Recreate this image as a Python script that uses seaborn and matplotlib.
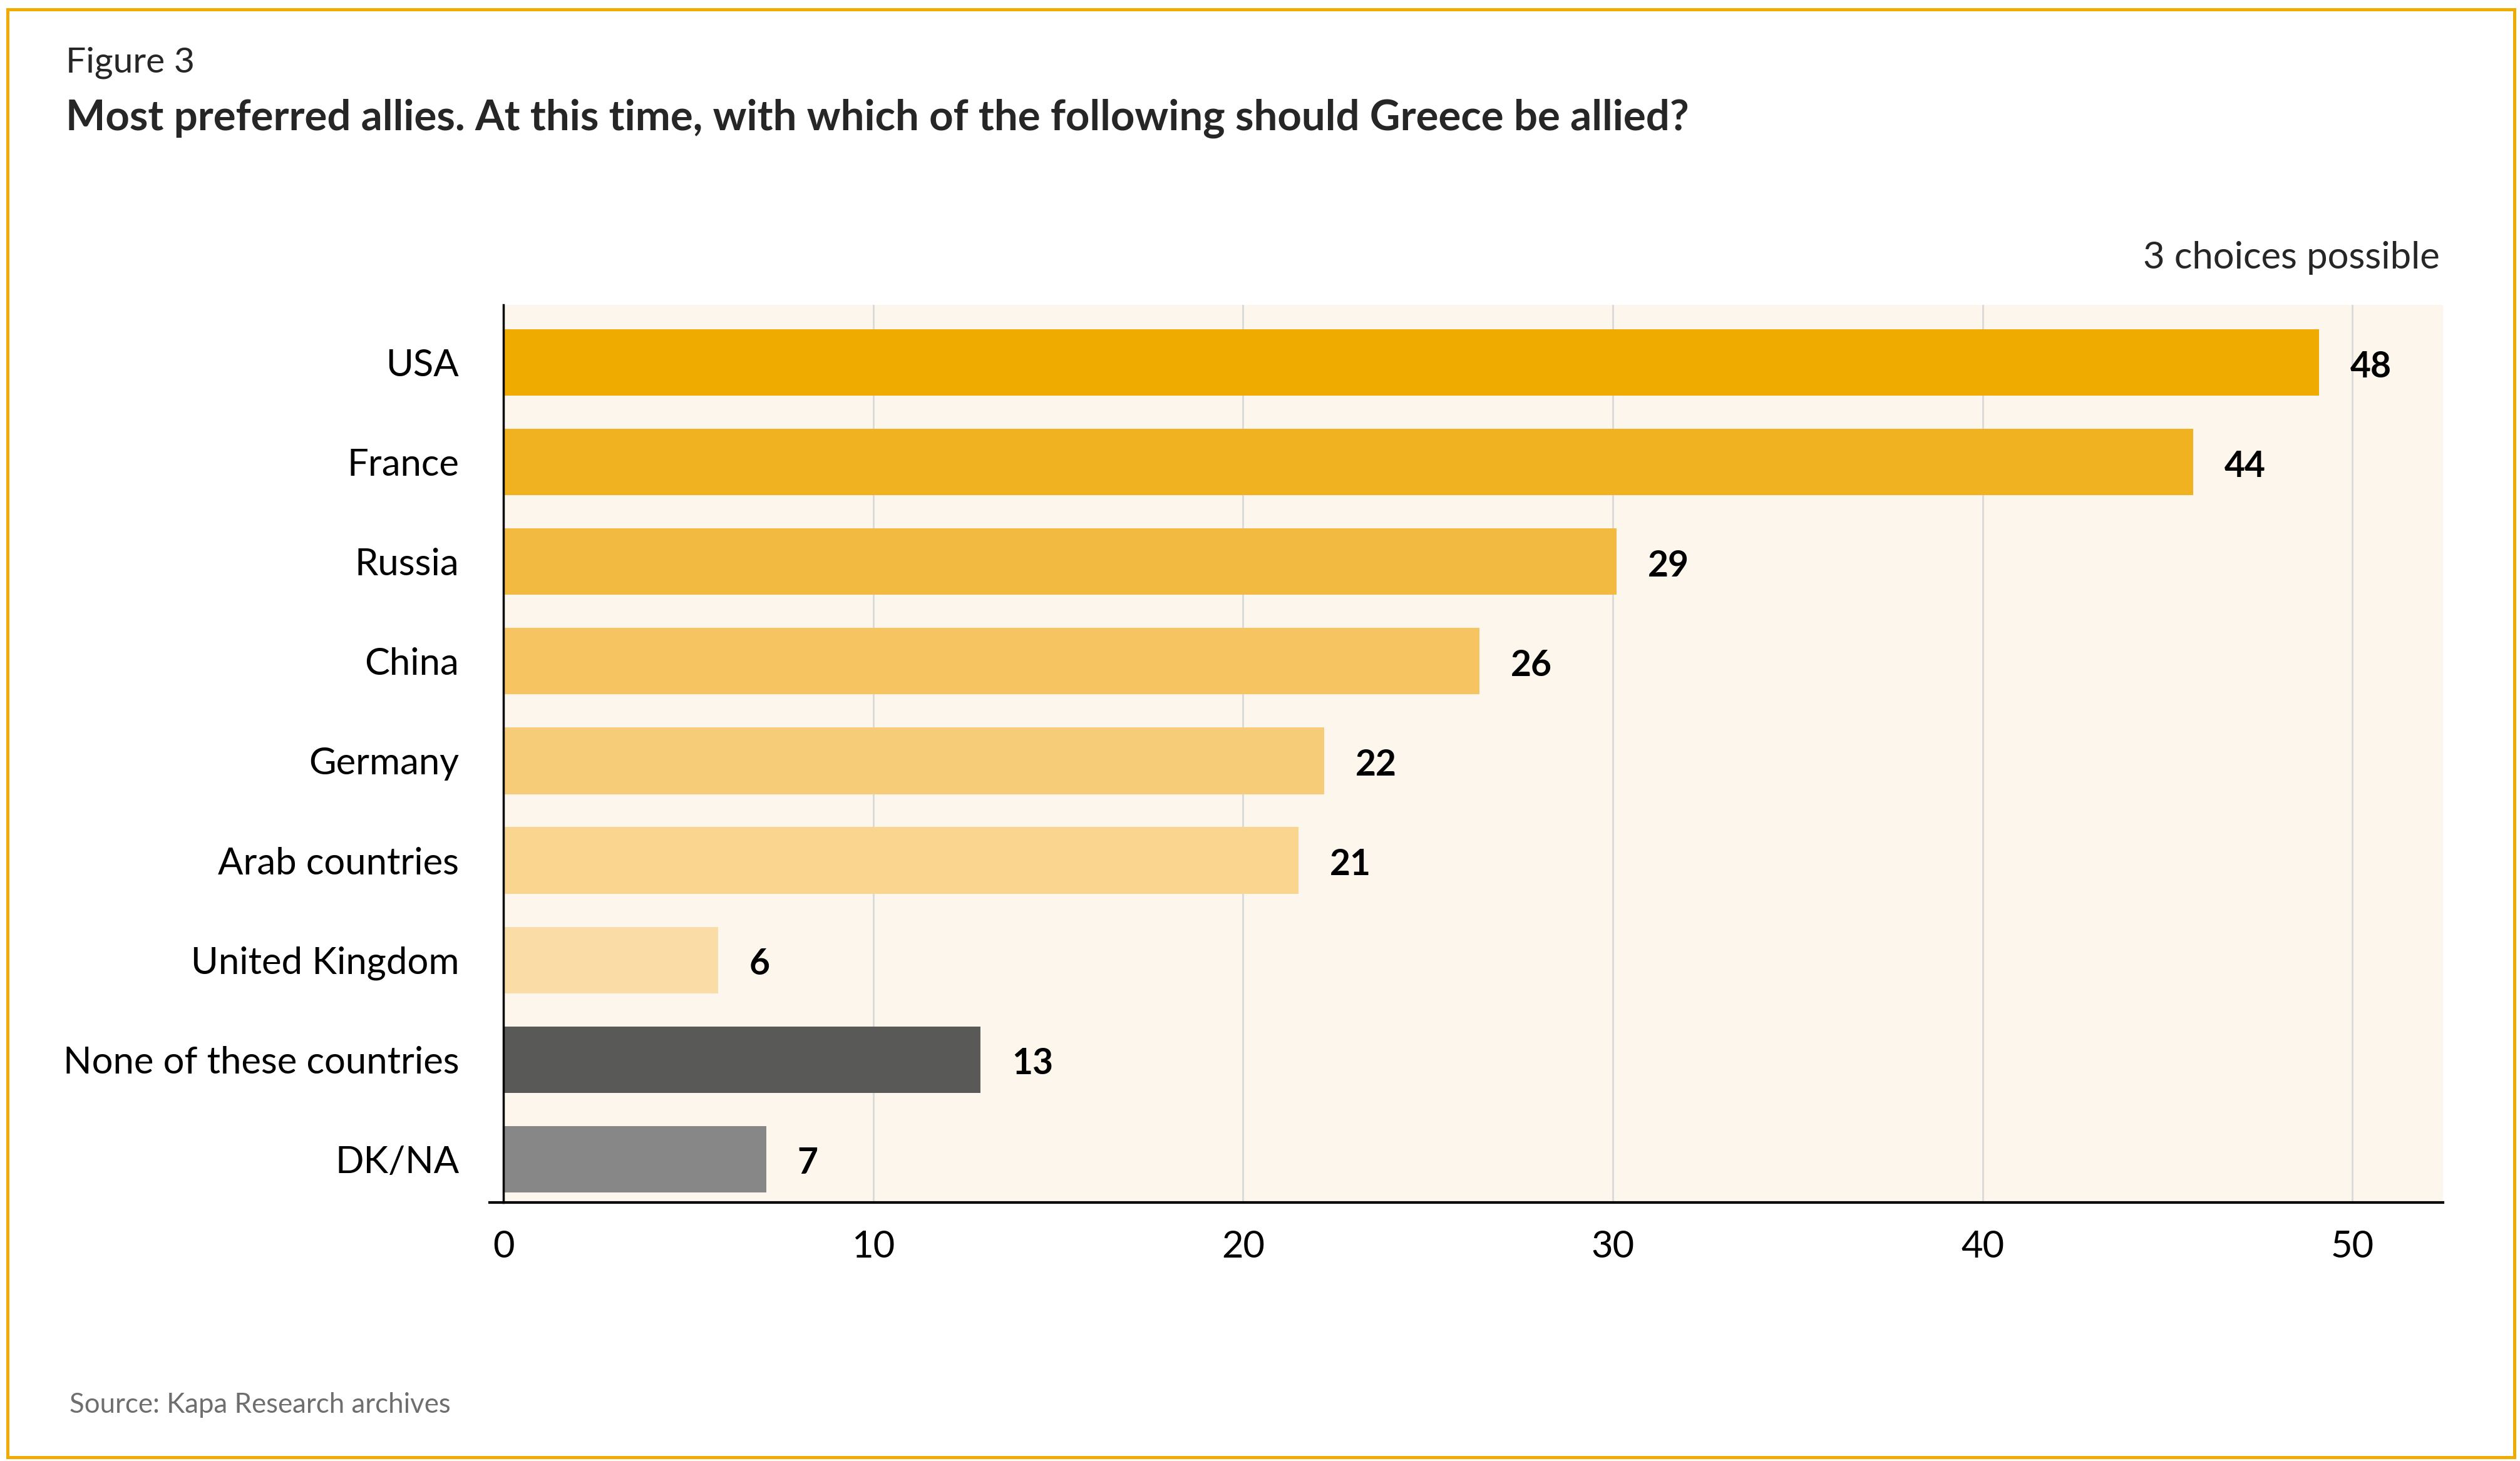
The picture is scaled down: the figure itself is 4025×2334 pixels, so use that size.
# =========================================================
# IMPORT LIBRARY
# =========================================================

import pandas as pd
import matplotlib.pyplot as plt
import seaborn as sns
from matplotlib.patches import Rectangle

# =========================================================
# DATA
# =========================================================

categories = [
    'USA',
    'France',
    'Russia',
    'China',
    'Germany',
    'Arab countries',
    'United Kingdom',
    'None of these countries',
    'DK/NA'
]

# bar lengths as drawn
bar_values = [49.1, 45.7, 30.1, 26.4, 22.2, 21.5, 5.8, 12.9, 7.1]

# numbers printed next to the bars
label_values = [48, 44, 29, 26, 22, 21, 6, 13, 7]

bar_colors = [
    '#F0AB00',
    '#F1B222',
    '#F3BA42',
    '#F6C561',
    '#F7CC79',
    '#F9D590',
    '#FADCA6',
    '#595957',
    '#878787'
]

x_ticks = [0, 10, 20, 30, 40, 50]

df = pd.DataFrame({
    'Country': categories,
    'Value': bar_values
})

# =========================================================
# STYLE
# =========================================================

sns.set_style('white')
plt.rcParams['font.family'] = ['Lato', 'DejaVu Sans']

FONT_LABEL = 43
FONT_VALUE = 41
FONT_TITLE = 48.3

# =========================================================
# FIGURE
# =========================================================

fig = plt.figure(figsize=(40.25, 23.34), dpi=100)
fig.patch.set_facecolor('white')

ax = fig.add_axes([0.1998, 0.1770, 0.7696, 0.6143])
ax.set_facecolor('#FDF6EC')

sns.barplot(
    data=df,
    x='Value',
    y='Country',
    hue='Country',
    palette=bar_colors,
    saturation=1,
    orient='h',
    width=0.667,
    linewidth=0,
    legend=False,
    ax=ax
)

ax.set_xlim(0, 52.45)
ax.set_ylim(8.434, -0.578)

ax.set_xticks(x_ticks)
ax.set_xticklabels([str(t) for t in x_ticks])

ax.set_xlabel('')
ax.set_ylabel('')

# grid
ax.set_axisbelow(True)
ax.xaxis.grid(True, color='#D9D9D9', linewidth=2)
ax.yaxis.grid(False)

# spines
for side in ['top', 'right']:
    ax.spines[side].set_visible(False)

ax.spines['left'].set_color('black')
ax.spines['left'].set_linewidth(2.5)
ax.spines['bottom'].set_color('black')
ax.spines['bottom'].set_linewidth(3)
ax.spines['bottom'].set_bounds(-0.37, 52.45)

# ticks
ax.tick_params(
    axis='x',
    length=16.5,
    width=2,
    color='#D9D9D9',
    pad=15,
    labelsize=FONT_LABEL,
    labelcolor='black'
)

ax.xaxis.get_major_ticks()[0].tick1line.set_color('black')
ax.xaxis.get_major_ticks()[0].tick1line.set_markeredgewidth(2.5)

ax.tick_params(
    axis='y',
    length=0,
    pad=51,
    labelsize=FONT_LABEL,
    labelcolor='black'
)

# value labels
for i, (val, txt) in enumerate(zip(bar_values, label_values)):
    ax.annotate(
        str(txt),
        xy=(val, i),
        xytext=(36, -5),
        textcoords='offset points',
        ha='left',
        va='center',
        fontsize=FONT_VALUE,
        fontweight='bold',
        color='black'
    )

# =========================================================
# TEXTS
# =========================================================

fig.text(
    0.0261, 0.9507,
    'Figure 3',
    fontsize=41,
    ha='left',
    va='baseline'
)

fig.text(
    0.0261, 0.9109,
    'Most preferred allies. At this time, with which of the following should Greece be allied?',
    fontsize=FONT_TITLE,
    fontweight='bold',
    ha='left',
    va='baseline'
)

fig.text(
    0.9682, 0.8162,
    '3 choices possible',
    fontsize=FONT_LABEL,
    ha='right',
    va='baseline'
)

fig.text(
    0.0276, 0.033,
    'Source: Kapa Research archives',
    fontsize=31.5,
    color='#6E6E6E',
    ha='left',
    va='baseline'
)

# orange frame
fig.patches.append(
    Rectangle(
        (12 / 4025, 1 - 2328 / 2334),
        (4016 - 12) / 4025,
        (2328 - 15) / 2334,
        transform=fig.transFigure,
        fill=False,
        edgecolor='#F0AB00',
        linewidth=3.6
    )
)

# =========================================================
# SAVE
# =========================================================

plt.savefig('out.png', dpi=100, facecolor='white')
